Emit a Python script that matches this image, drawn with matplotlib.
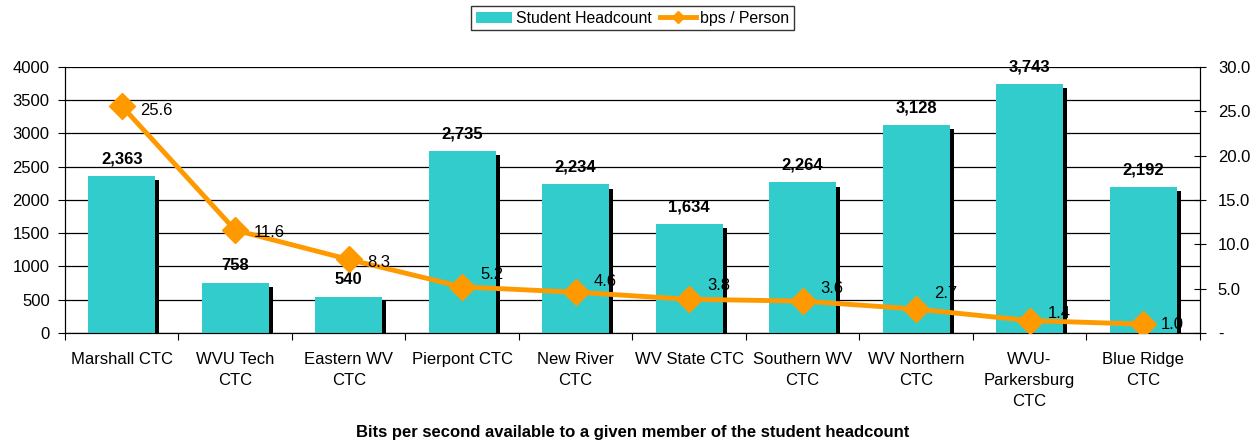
import numpy as np
import matplotlib.pyplot as plt
import matplotlib.patheffects as pe
from matplotlib.lines import Line2D
from matplotlib.patches import Patch

plt.rcParams['font.family'] = ['Liberation Sans', 'DejaVu Sans']
plt.rcParams['font.size'] = 12

colleges = ['Marshall CTC', 'WVU Tech\nCTC', 'Eastern WV\nCTC', 'Pierpont CTC',
            'New River\nCTC', 'WV State CTC', 'Southern WV\nCTC', 'WV Northern\nCTC',
            'WVU-\nParkersburg\nCTC', 'Blue Ridge\nCTC']
headcount = [2363, 758, 540, 2735, 2234, 1634, 2264, 3128, 3743, 2192]
bps_per_person = [25.6, 11.6, 8.3, 5.2, 4.6, 3.8, 3.6, 2.7, 1.4, 1.0]
# vertical nudge (points) of each line label, as placed in the source
label_dy = [-3, -2, -2, 9, 8, 10, 9, 11, 5, 0]

teal = '#33CCCC'
orange = '#FF9900'

fig = plt.figure(figsize=(12.55, 4.43), dpi=100)
ax = fig.add_axes([0.0518, 0.2483, 0.9042, 0.6005])
ax2 = ax.twinx()

x = np.arange(len(colleges))

# gridlines
ax.set_axisbelow(True)
ax.yaxis.grid(True, color='black', lw=0.9)

bars = ax.bar(x, headcount, 0.59, color=teal, zorder=3,
              path_effects=[pe.SimplePatchShadow(offset=(3, -3), shadow_rgbFace='black', alpha=1),
                            pe.Normal()])
for xi, v in zip(x, headcount):
    ax.annotate(f'{v:,}', (xi, v), xytext=(0, 7), textcoords='offset points',
                ha='center', va='bottom', fontweight='bold')

ax2.plot(x, bps_per_person, color=orange, lw=3.5, marker='D', ms=13, zorder=5)
for xi, v, dy in zip(x, bps_per_person, label_dy):
    ax2.annotate(f'{v:.1f}', (xi, v), xytext=(13, dy),
                 textcoords='offset points', ha='left', va='center', zorder=6)

ax.set_xlim(-0.5, len(colleges) - 0.5)
ax.set_ylim(0, 4000)
ax.set_yticks(np.arange(0, 4001, 500))
ax2.set_ylim(0, 30)
ax2.set_yticks(np.arange(0, 31, 5))
ax2.set_yticklabels(['-'] + [f'{t:.1f}' for t in np.arange(5, 31, 5)])

ax.set_xticks(np.arange(len(colleges) + 1) - 0.5, minor=False)
ax.set_xticklabels([])
ax.set_xticks(x, minor=True)
ax.set_xticklabels(colleges, minor=True, linespacing=1.5)
ax.tick_params(axis='x', which='minor', length=0, pad=14)
ax.tick_params(axis='x', which='major', direction='out', length=5)
ax.tick_params(axis='y', direction='out', length=5, pad=6)
ax2.tick_params(axis='y', direction='inout', length=8, pad=9)

for a in (ax, ax2):
    a.spines['top'].set_visible(False)
ax2.set_zorder(ax.get_zorder() + 1)
ax2.patch.set_visible(False)
fig.text(0.504, 0.0226,
         'Bits per second available to a given member of the student headcount',
         ha='center', va='center', fontweight='bold', fontsize=12)

handles = [Patch(facecolor=teal, edgecolor='none'),
           Line2D([0], [0], color=orange, lw=3.5, marker='D', ms=6)]
leg = fig.legend(handles, ['Student Headcount', 'bps / Person'], loc='center',
                 bbox_to_anchor=(0.504, 0.959), ncol=2, frameon=True, fancybox=False,
                 handlelength=2.3, handletextpad=0.25, columnspacing=0.5,
                 borderpad=0.3, fontsize=11.4)
leg.get_frame().set_edgecolor('black')
leg.get_frame().set_linewidth(1)

fig.savefig('out.png', dpi=100)
